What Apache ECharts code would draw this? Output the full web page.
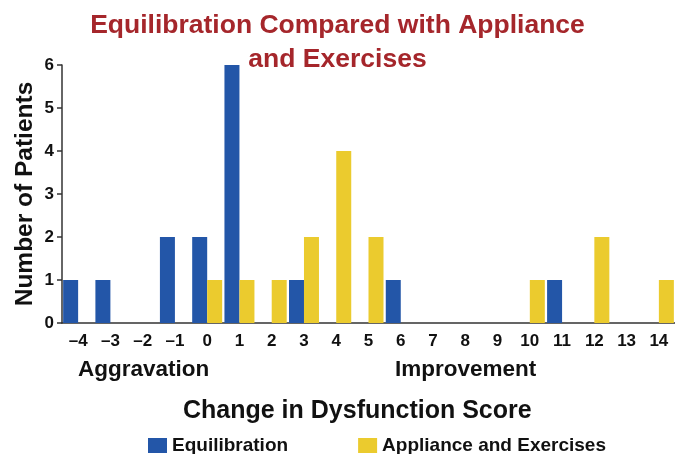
<!DOCTYPE html>
<html>
<head>
<meta charset="utf-8">
<script src="https://cdn.jsdelivr.net/npm/echarts@6/dist/echarts.min.js"></script>
<style>
  html, body { margin: 0; padding: 0; background: #fff; }
  #chart { width: 675px; height: 454px; }
</style>
</head>
<body>
<div id="chart"></div>
<script>
// change in dysfunction score (x axis categories)
var scoreLabels = ['–4', '–3', '–2', '–1', '0', '1', '2', '3', '4', '5', '6', '7', '8', '9', '10', '11', '12', '13', '14'];
// number of patients per score
var equilibration = [1, 1, 0, 2, 2, 6, 0, 1, 0, 0, 1, 0, 0, 0, 0, 1, 0, 0, 0];
var applianceExercises = [0, 0, 0, 0, 1, 1, 1, 2, 4, 2, 0, 0, 0, 0, 1, 0, 2, 0, 1];
var yTicks = [0, 6, 1]; // min, max, interval

var font = 'Liberation Sans, Arial, Helvetica, sans-serif';
var axisColor = '#333';

var chart = echarts.init(document.getElementById('chart'));
chart.setOption({
  backgroundColor: '#fff',
  animation: false,
  title: {
    text: 'Equilibration Compared with Appliance\nand Exercises',
    left: 'center',
    top: 4,
    textStyle: {
      color: '#A5262B',
      fontFamily: font,
      fontWeight: 'bold',
      fontSize: 26.5,
      lineHeight: 34
    }
  },
  legend: {
    left: 148,
    top: 436,
    padding: 0,
    icon: 'rect',
    itemWidth: 19,
    itemHeight: 15,
    itemGap: 70,
    textStyle: {
      color: '#111',
      fontFamily: font,
      fontWeight: 'bold',
      fontSize: 19
    },
    data: ['Equilibration', 'Appliance and Exercises']
  },
  grid: {
    left: 62,
    right: 0,
    top: 65,
    bottom: 131,
    containLabel: false
  },
  xAxis: {
    type: 'category',
    data: scoreLabels,
    boundaryGap: true,
    axisLine: { show: true, lineStyle: { color: axisColor, width: 1.5 } },
    axisTick: { show: false },
    axisLabel: {
      interval: 0,
      margin: 10,
      color: '#111',
      fontFamily: font,
      fontWeight: 'bold',
      fontSize: 17
    }
  },
  yAxis: {
    type: 'value',
    min: yTicks[0],
    max: yTicks[1],
    interval: yTicks[2],
    name: 'Number of Patients',
    nameLocation: 'middle',
    nameGap: 24,
    nameMoveOverlap: false,
    nameTextStyle: {
      color: '#111',
      fontFamily: font,
      fontWeight: 'bold',
      fontSize: 24.5
    },
    splitLine: { show: false },
    axisLine: { show: true, lineStyle: { color: axisColor, width: 1.5 } },
    axisTick: { show: true, length: 5, lineStyle: { color: axisColor, width: 1.5 } },
    axisLabel: {
      margin: 8,
      color: '#111',
      fontFamily: font,
      fontWeight: 'bold',
      fontSize: 17
    }
  },
  graphic: [
    {
      type: 'text',
      left: 78,
      top: 358,
      style: { text: 'Aggravation', fill: '#111', font: 'bold 22.5px ' + font }
    },
    {
      type: 'text',
      left: 395,
      top: 358,
      style: { text: 'Improvement', fill: '#111', font: 'bold 22.5px ' + font }
    },
    {
      type: 'text',
      left: 183,
      top: 399,
      style: { text: 'Change in Dysfunction Score', fill: '#111', font: 'bold 25px ' + font }
    }
  ],
  series: [
    {
      name: 'Equilibration',
      type: 'bar',
      barWidth: 15,
      barGap: '0%',
      itemStyle: { color: '#2356A8' },
      data: equilibration
    },
    {
      name: 'Appliance and Exercises',
      type: 'bar',
      barWidth: 15,
      barGap: '0%',
      itemStyle: { color: '#EBCB2E' },
      data: applianceExercises
    }
  ]
});
</script>
</body>
</html>
